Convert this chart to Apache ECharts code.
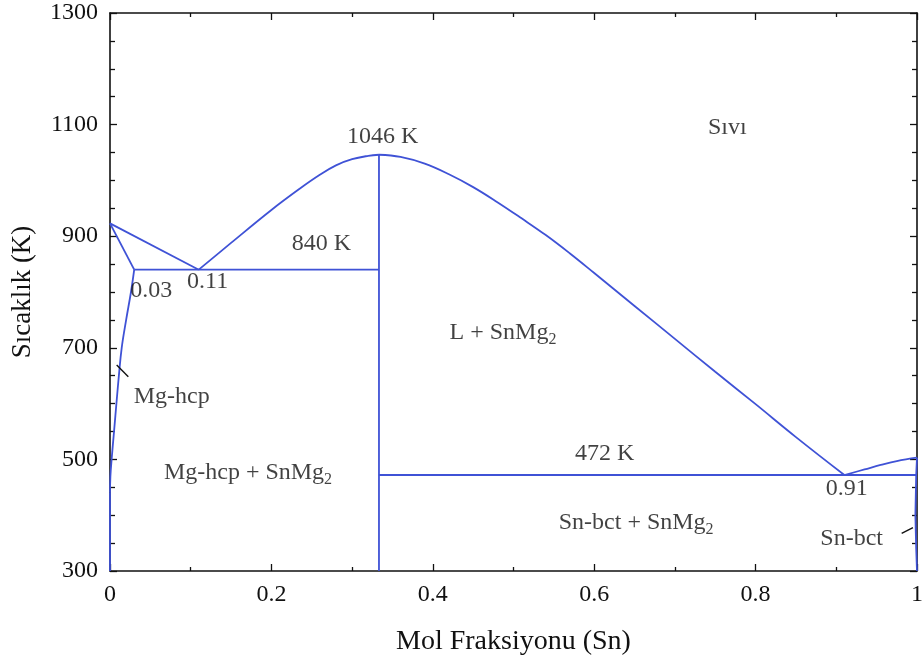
<!DOCTYPE html>
<html>
<head>
<meta charset="utf-8">
<style>
  html, body { margin: 0; padding: 0; background: #fff; }
  #chart { width: 922px; height: 663px; }
</style>
<script src="https://cdn.jsdelivr.net/npm/echarts@6/dist/echarts.min.js"></script>
</head>
<body>
<div id="chart"></div>
<script>
// Mg–Sn phase diagram: composition (mole fraction Sn) vs temperature (K)

// Phase boundaries as [x, T] pairs
const mgLiquidus    = [[0, 923], [0.11, 840]];
const mgSolidus     = [[0, 923], [0.03, 840]];
const mgSolvus      = [[0.03, 840], [0.026, 800], [0.02, 750], [0.0145, 700], [0.011, 650],
                       [0.0083, 606], [0.005, 550], [0.002, 500], [0.0005, 470], [0, 440]];
const mgAxisEdge    = [[0, 440], [0, 300]];
const eutecticMg    = [[0.03, 840], [0.3333, 840]];
const compoundLine  = [[0.3333, 300], [0.3333, 1046]];
const liquidusLeft  = [[0.11, 840], [0.15, 888], [0.20, 947], [0.235, 985], [0.26, 1010],
                       [0.28, 1027], [0.30, 1038], [0.32, 1044], [0.3333, 1046]];
const liquidusRight = [[0.3333, 1046], [0.36, 1042], [0.39, 1030], [0.42, 1011], [0.45, 988],
                       [0.48, 961], [0.51, 932], [0.54, 902], [0.57, 869], [0.60, 834],
                       [0.65, 775], [0.70, 716], [0.75, 657], [0.80, 599], [0.85, 540], [0.91, 472]];
const eutecticSn    = [[0.3333, 472], [1, 472]];
const snLiquidus    = [[0.91, 472], [0.935, 482], [0.955, 490], [0.975, 497], [1, 503]];
const snSolvus      = [[1, 503], [0.999, 472], [0.998, 400], [0.999, 340], [1, 300]];

// Pointer strokes from phase names to narrow single-phase fields
const leaderMg = [[0.0083, 669], [0.0227, 648]];
const leaderSn = [[0.981, 367.6], [0.995, 377.7]];

// Region and point annotations: [x, T, text]
const annotations = [
  [0.765, 1095, 'Sıvı'],
  [0.338, 1078, '1046 K'],
  [0.262, 887, '840 K'],
  [0.051, 803, '0.03'],
  [0.121, 818, '0.11'],
  [0.0765, 612, 'Mg-hcp'],
  [0.171, 476, 'Mg-hcp + SnMg{sub|2}'],
  [0.487, 727, 'L + SnMg{sub|2}'],
  [0.613, 511, '472 K'],
  [0.913, 447, '0.91'],
  [0.652, 386, 'Sn-bct + SnMg{sub|2}'],
  [0.919, 358, 'Sn-bct']
];

const xTicks = { min: 0, max: 1, interval: 0.2 };
const yTicks = { min: 300, max: 1300, interval: 200 };

const FONT = '"Liberation Serif", "Times New Roman", serif';
const INK = '#111';
const BLUE = '#3f52d6';

function boundary(data, smooth) {
  return {
    type: 'line', data, showSymbol: false, symbol: 'none', silent: true,
    smooth: smooth || false,
    lineStyle: { color: BLUE, width: 1.8 }, animation: false, z: 3
  };
}
function leader(data) {
  return {
    type: 'line', data, showSymbol: false, symbol: 'none', silent: true,
    lineStyle: { color: INK, width: 1.4 }, animation: false, z: 4
  };
}

const axisLineStyle = { color: INK, width: 1.6 };
const tickStyle = { color: INK, width: 1.3 };

const chart = echarts.init(document.getElementById('chart'), null, { renderer: 'canvas' });
chart.setOption({
  animation: false,
  backgroundColor: '#fff',
  grid: { left: 110, right: 5, top: 13, bottom: 92, containLabel: false, outerBoundsMode: 'none' },
  xAxis: [{
    type: 'value', min: xTicks.min, max: xTicks.max, interval: xTicks.interval,
    name: 'Mol Fraksiyonu (Sn)', nameLocation: 'middle', nameGap: 57,
    nameTextStyle: { fontFamily: FONT, fontSize: 28, color: INK },
    axisLine: { show: true, onZero: false, lineStyle: axisLineStyle },
    axisTick: { show: true, inside: true, length: 7, lineStyle: tickStyle },
    minorTick: { show: true, splitNumber: 2, length: 4, lineStyle: tickStyle },
    splitLine: { show: false },
    axisLabel: { fontFamily: FONT, fontSize: 24, color: INK, margin: 12,
      formatter: v => (Math.abs(v - 1) < 1e-9 ? '1' : (Math.abs(v) < 1e-9 ? '0' : v.toFixed(1))) }
  }, {
    type: 'value', position: 'top', min: xTicks.min, max: xTicks.max, interval: xTicks.interval,
    axisLine: { show: true, onZero: false, lineStyle: axisLineStyle },
    axisTick: { show: true, inside: true, length: 7, lineStyle: tickStyle },
    minorTick: { show: true, splitNumber: 2, length: 4, lineStyle: tickStyle },
    splitLine: { show: false }, axisLabel: { show: false }
  }],
  yAxis: [{
    type: 'value', min: yTicks.min, max: yTicks.max, interval: yTicks.interval,
    name: 'Sıcaklık (K)', nameLocation: 'middle', nameGap: 74, nameRotate: 90,
    nameTextStyle: { fontFamily: FONT, fontSize: 27, color: INK },
    axisLine: { show: true, onZero: false, lineStyle: axisLineStyle },
    axisTick: { show: true, inside: true, length: 7, lineStyle: tickStyle },
    minorTick: { show: true, splitNumber: 4, length: 5, lineStyle: tickStyle },
    splitLine: { show: false },
    axisLabel: { fontFamily: FONT, fontSize: 24, color: INK, margin: 12, formatter: v => String(v) }
  }, {
    type: 'value', position: 'right', min: yTicks.min, max: yTicks.max, interval: yTicks.interval,
    axisLine: { show: true, onZero: false, lineStyle: axisLineStyle },
    axisTick: { show: true, inside: true, length: 7, lineStyle: tickStyle },
    minorTick: { show: true, splitNumber: 4, length: 5, lineStyle: tickStyle },
    splitLine: { show: false }, axisLabel: { show: false }
  }],
  series: [
    boundary(mgLiquidus),
    boundary(mgSolidus),
    boundary(mgSolvus, 0.4),
    boundary(mgAxisEdge),
    boundary(eutecticMg),
    boundary(compoundLine),
    boundary(liquidusLeft, 0.4),
    boundary(liquidusRight, 0.4),
    boundary(eutecticSn),
    boundary(snLiquidus, 0.4),
    boundary(snSolvus),
    leader(leaderMg),
    leader(leaderSn),
    {
      type: 'scatter', silent: true, symbolSize: 0, z: 5, animation: false,
      data: annotations.map(a => ({ value: [a[0], a[1]], name: a[2] })),
      label: {
        show: true, position: 'inside', formatter: p => p.name,
        fontFamily: FONT, fontSize: 24, color: INK, lineHeight: 30,
        rich: {
          sub: { fontFamily: FONT, fontSize: 16, color: INK, lineHeight: 15, verticalAlign: 'bottom' }
        }
      }
    }
  ]
});
</script>
</body>
</html>
